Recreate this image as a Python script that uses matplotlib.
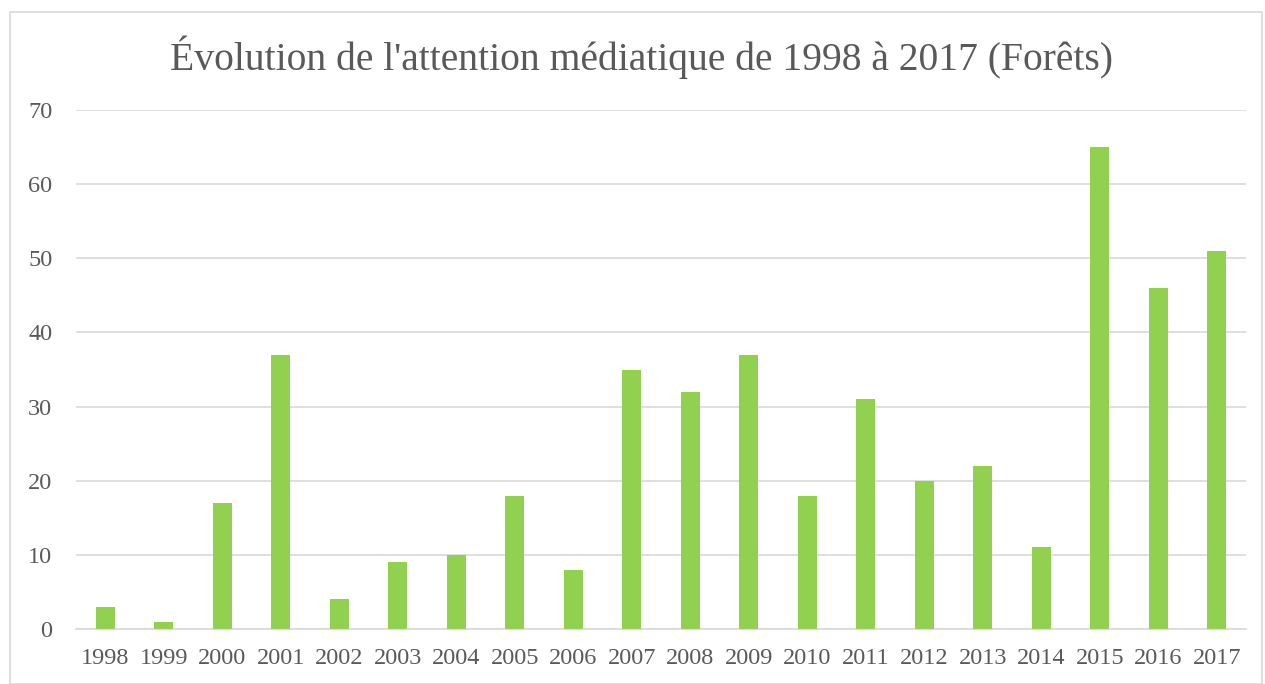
import matplotlib
matplotlib.use("Agg")
import matplotlib.pyplot as plt
from matplotlib.patches import Rectangle

years = ["1998", "1999", "2000", "2001", "2002", "2003", "2004", "2005", "2006", "2007",
         "2008", "2009", "2010", "2011", "2012", "2013", "2014", "2015", "2016", "2017"]
values = [3, 1, 17, 37, 4, 9, 10, 18, 8, 35, 32, 37, 18, 31, 20, 22, 11, 65, 46, 51]
yticks = [0, 10, 20, 30, 40, 50, 60, 70]
title = "Évolution de l'attention médiatique de 1998 à 2017 (Forêts)"

plt.rcParams['font.family'] = ['Liberation Serif', 'DejaVu Serif']
txt = "#595959"

fig = plt.figure(figsize=(12.65, 6.84), dpi=100)
fig.patches.append(Rectangle((10/1265, 0), (1262-10)/1265, (684-12)/684, transform=fig.transFigure,
                             fill=False, edgecolor="#D9D9D9", linewidth=1.2))
ax = fig.add_axes([76/1265, 55/684, (1246-76)/1265, (629-110)/684])
x = list(range(len(years)))
ax.bar(x, values, width=0.33, color="#92D050", zorder=3)
ax.set_xlim(-0.5, len(years) - 0.5)
ax.set_ylim(0, 70)
ax.set_yticks(yticks)
ax.set_xticks(x)
ax.set_xticklabels(years)
ax.grid(axis="y", color="#D9D9D9", linewidth=1.2, zorder=0)
for s in ["top", "right", "left"]:
    ax.spines[s].set_visible(False)
ax.spines["bottom"].set_color("#D9D9D9")
ax.spines["bottom"].set_linewidth(1.2)
ax.tick_params(axis="both", length=0, labelsize=17.5, colors=txt)
ax.tick_params(axis="x", pad=14)
ax.tick_params(axis="y", pad=17)
fig.text(642/1265, 1 - 57/684, title, ha="center", va="center", fontsize=28.5, color=txt)
fig.savefig("out.png", dpi=100)
